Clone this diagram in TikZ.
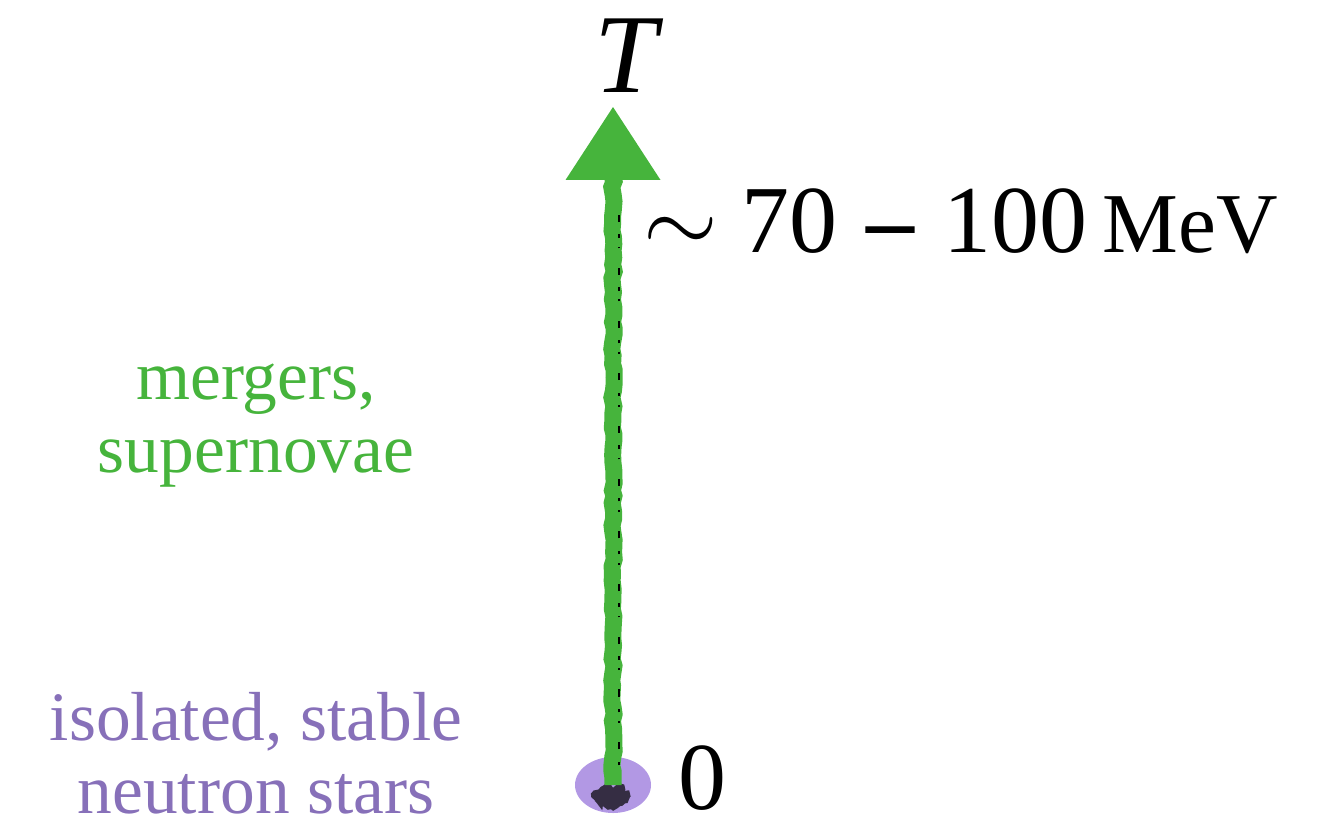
\RequirePackage{fix-cm}
\documentclass[tikz,border=0pt]{standalone}
\usepackage{fontspec}
\setmainfont{Liberation Serif}
\usepackage{tikz}
\usetikzlibrary{arrows.meta,positioning,shapes.geometric,decorations.pathmorphing}
\definecolor{hotgreen}{RGB}{70,180,60}
\definecolor{coldpurple}{RGB}{135,112,185}
\definecolor{lavender}{RGB}{178,152,228}
\tikzset{
    axisarrow/.style={
        draw=hotgreen,
        line width=0.34cm,
        line cap=round,
        shorten <=0.3cm,
        -{Triangle[width=1.9cm,length=1.46cm,line width=0pt]},
        decoration={random steps,segment length=4pt,amplitude=0.7pt,
                    post=lineto,post length=8pt},
        decorate
    },
    smudge/.style={
        draw=black,
        line width=1.4pt,
        dash pattern=on 2pt off 7pt on 4pt off 11pt on 1pt off 5pt
    },
    zerodot/.style={
        ellipse,
        fill=lavender,
        minimum width=1.52cm,
        minimum height=1.12cm,
        inner sep=0pt
    },
    biglabel/.style={
        font=\fontsize{54.6}{60}\selectfont
    },
    sidelabel/.style={
        align=center,
        font=\fontsize{39.5}{41.5}\selectfont
    }
}
\begin{document}
\begin{tikzpicture}[x=0.02cm, y=-0.02cm]
    \useasboundingbox (0,0) rectangle (1327,823);

    % temperature axis
    \node[zerodot] (zero) at (613,785) {};
    \fill[black, opacity=0.7,
          decoration={random steps,segment length=2pt,amplitude=1.6pt}, decorate]
        (611,797) ellipse (19 and 12);
    \coordinate (tip) at (613,107);
    \draw[axisarrow] (zero.center) -- (tip);
    \draw[smudge] (619,765) -- (619,200);

    % axis labels
    \node[anchor=base, inner sep=0pt, font=\fontsize{64}{66}\selectfont\itshape] (tlabel) at (626,92) {T};
    \node[biglabel, anchor=base west, inner sep=0pt] (tmax) at (643,252)
        {$\sim$\hspace{0.25em}70\hspace{0.3em}{\bfseries --}\hspace{0.3em}100\hspace{0.16em}{\fontsize{48.5}{50}\selectfont MeV}};
    \node[biglabel, anchor=base west, inner sep=0pt, text depth=0pt] (tzero) at (678,809) {0};

    % regimes
    \node[sidelabel, text=hotgreen, anchor=base] (hot) at (256,472) {mergers,\\supernovae};
    \node[sidelabel, text=coldpurple, anchor=base, text depth=0pt] (cold) at (256,813) {isolated, stable\\neutron stars};
\end{tikzpicture}
\end{document}
